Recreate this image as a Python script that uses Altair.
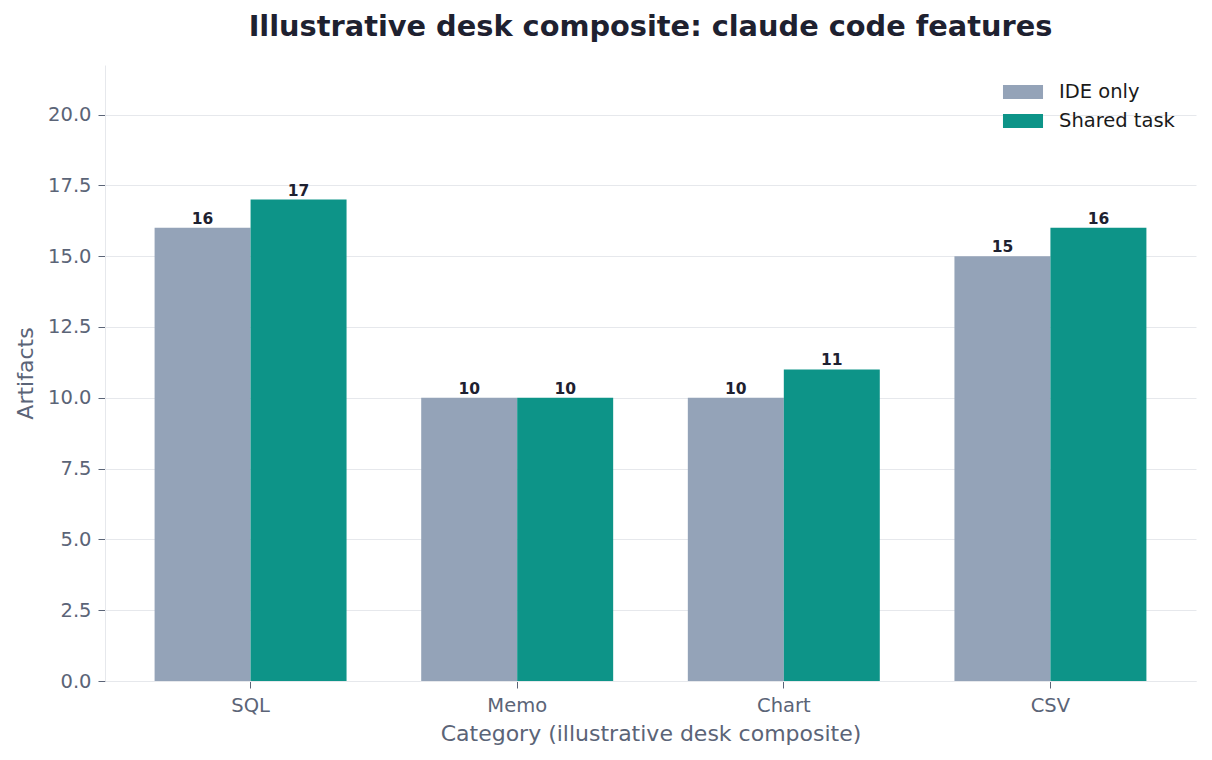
import altair as alt
import pandas as pd

categories = ["SQL", "Memo", "Chart", "CSV"]
series = ["IDE only", "Shared task"]
ide_only = [16, 10, 10, 15]
shared_task = [17, 10, 11, 16]
colors = ["#94a3b8", "#0d9488"]

rows = []
for c, a, b in zip(categories, ide_only, shared_task):
    rows.append({"category": c, "series": series[0], "value": a})
    rows.append({"category": c, "series": series[1], "value": b})
df = pd.DataFrame(rows)

FONT = "DejaVu Sans"
AX = "#5b6477"
GRID = "#e6e8ec"

x = alt.X("category:N", sort=categories,
          scale=alt.Scale(paddingInner=0.28, paddingOuter=0.186),
          axis=alt.Axis(title="Category (illustrative desk composite)", labelAngle=0,
                        labelFontSize=19.5, titleFontSize=22, labelColor=AX, titleColor=AX,
                        tickColor=AX, tickSize=7, domainColor=GRID, labelPadding=8,
                        titlePadding=9, titleFontWeight="normal"))
xo = alt.XOffset("series:N", sort=series, scale=alt.Scale(paddingInner=0, paddingOuter=0))
y = alt.Y("value:Q", scale=alt.Scale(domain=[0, 21.75], nice=False),
          axis=alt.Axis(title="Artifacts", values=[0, 2.5, 5, 7.5, 10, 12.5, 15, 17.5, 20],
                        format=".1f", labelFontSize=19.5, titleFontSize=22, labelColor=AX,
                        titleColor=AX, tickColor=AX, tickSize=7, domainColor=GRID,
                        gridColor=GRID, labelPadding=7, titlePadding=10,
                        titleFontWeight="normal"))

bars = alt.Chart(df).mark_bar().encode(
    x=x, xOffset=xo, y=y,
    color=alt.Color("series:N", sort=series,
                    scale=alt.Scale(domain=series, range=colors),
                    legend=alt.Legend(title=None, orient="none", legendX=904, legendY=13,
                                      symbolType="M-1.43,-0.5H1.43V0.5H-1.43Z", symbolSize=784,
                                      symbolStrokeWidth=0, labelFontSize=19.5,
                                      labelColor="#1a1a1a", rowPadding=5, labelOffset=22)),
)
labels = alt.Chart(df).mark_text(baseline="alphabetic", dy=-4, fontSize=15.5, fontWeight="bold",
                                 color="#1e2130", font=FONT).encode(
    x=x, xOffset=xo, y=y, text=alt.Text("value:Q"))

chart = (bars + labels).properties(
    width=1091, height=616,
    padding={"left": 6, "top": 5, "right": 5, "bottom": 5},
    title=alt.TitleParams("Illustrative desk composite: claude code features",
                          fontSize=28.8, fontWeight="bold", color="#1e2130", font=FONT, offset=23),
).configure(font=FONT).configure_view(stroke=None).configure_axis(labelFont=FONT, titleFont=FONT)

chart.save("out.html", embed_options={"renderer": "svg", "actions": False})
